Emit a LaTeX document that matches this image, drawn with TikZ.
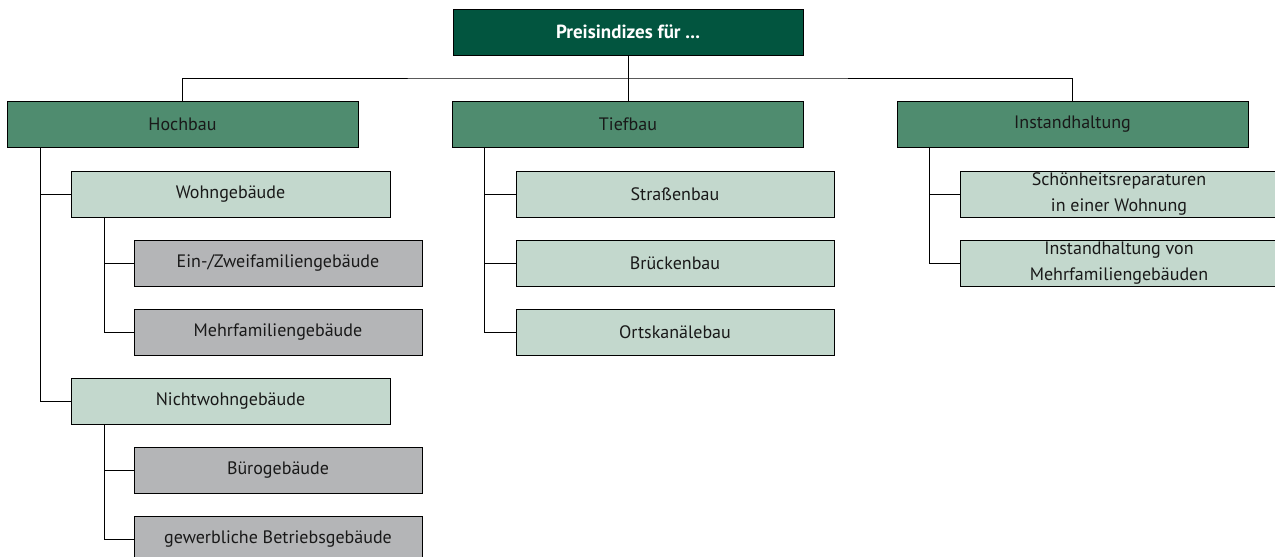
\documentclass[tikz,border=0pt]{standalone}
\usepackage{fontspec}
\setmainfont{PT Sans}
\definecolor{cTop}{HTML}{02553F}
\definecolor{cLone}{HTML}{4F8C6F}
\definecolor{cLtwo}{HTML}{C3D8CD}
\definecolor{cLthree}{HTML}{B4B5B7}
\begin{document}
\begin{tikzpicture}[x=1pt,y=-1pt,line width=1pt,
  box/.style={draw=black,rectangle,inner sep=0pt,align=center,font=\fontsize{18}{26}\selectfont,minimum height=46pt},
  topbox/.style={box,fill=cTop,text=white,font=\fontsize{19}{22}\selectfont\bfseries,minimum width=350pt},
  lone/.style={box,fill=cLone,text=black!90,minimum width=351pt},
  ltwo/.style={box,fill=cLtwo,text=black!90,minimum width=319pt},
  lthree/.style={box,fill=cLthree,text=black!90,minimum width=288pt},
  conn/.style={draw=black,line width=1pt}]
\useasboundingbox (0,0) rectangle (1275,557);
\node[topbox] (top) at (628,32) {Preisindizes für ...};
\node[lone] (hoch) at (182.5,124.5) {Hochbau};
\node[lone] (tief) at (628,124.5) {Tiefbau};
\node[lone] (inst) at (1072.5,124.5) {Instandhaltung};
\node[ltwo] (wohn) at (230.5,194) {Wohngebäude};
\node[ltwo] (nwohn) at (230.5,401) {Nichtwohngebäude};
\node[lthree] (ein) at (278,263) {Ein-/Zweifamiliengebäude};
\node[lthree] (mehr) at (278,332) {Mehrfamiliengebäude};
\node[lthree] (buero) at (278,470) {Bürogebäude};
\node[lthree] (gew) at (278,539) {gewerbliche Betriebsgebäude};
\node[ltwo,minimum width=318pt] (str) at (675,194) {Straßenbau};
\node[ltwo,minimum width=318pt] (brue) at (675,263) {Brückenbau};
\node[ltwo,minimum width=318pt] (orts) at (675,332) {Ortskanälebau};
\node[ltwo,minimum width=318pt] (schoen) at (1119,194) {Schönheitsreparaturen\\in einer Wohnung};
\node[ltwo,minimum width=318pt] (ivon) at (1119,263) {Instandhaltung von\\Mehrfamiliengebäuden};
\coordinate (bus) at (628,78);
\coordinate (ht) at (40,147);
\coordinate (wt) at (104,217);
\coordinate (nt) at (104,424);
\coordinate (tt) at (484,147);
\coordinate (it) at (929,147);
\draw[conn] (top.south) -- (tief.north);
\draw[conn] (hoch.north) |- (bus) -| (inst.north);
\draw[conn] (ht) |- (wohn.west);
\draw[conn] (ht) |- (nwohn.west);
\draw[conn] (wt) |- (ein.west);
\draw[conn] (wt) |- (mehr.west);
\draw[conn] (nt) |- (buero.west);
\draw[conn] (nt) |- (gew.west);
\draw[conn] (tt) |- (str.west);
\draw[conn] (tt) |- (brue.west);
\draw[conn] (tt) |- (orts.west);
\draw[conn] (it) |- (schoen.west);
\draw[conn] (it) |- (ivon.west);
\end{tikzpicture}
\end{document}
